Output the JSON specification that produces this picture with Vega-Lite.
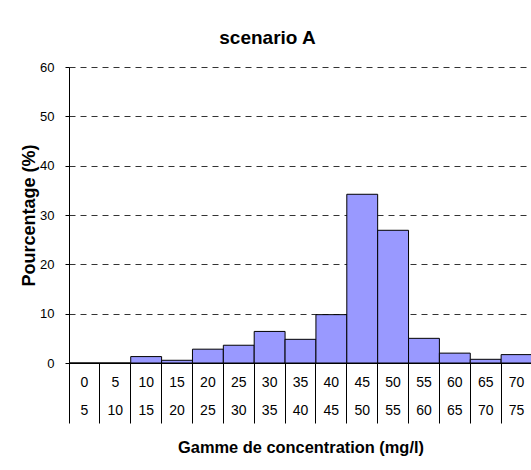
{
  "$schema": "https://vega.github.io/schema/vega-lite/v6.json",
  "autosize": "none",
  "padding": {"left": 69, "top": 67, "right": 0, "bottom": 107},
  "width": 463,
  "height": 296,
  "background": "white",
  "title": {
    "text": "scenario A",
    "font": "Liberation Sans",
    "fontSize": 19,
    "fontWeight": "bold",
    "color": "black",
    "anchor": "middle",
    "dx": -33,
    "offset": 13
  },
  "data": {
    "values": [
      {"bin": "0-5", "pct": 0},
      {"bin": "5-10", "pct": 0},
      {"bin": "10-15", "pct": 1.3},
      {"bin": "15-20", "pct": 0.55},
      {"bin": "20-25", "pct": 2.8},
      {"bin": "25-30", "pct": 3.6},
      {"bin": "30-35", "pct": 6.4},
      {"bin": "35-40", "pct": 4.8},
      {"bin": "40-45", "pct": 9.8},
      {"bin": "45-50", "pct": 34.2},
      {"bin": "50-55", "pct": 26.9},
      {"bin": "55-60", "pct": 5.0},
      {"bin": "60-65", "pct": 2.0},
      {"bin": "65-70", "pct": 0.75},
      {"bin": "70-75", "pct": 1.7}
    ]
  },
  "mark": {"type": "bar", "fill": "#9999FF", "stroke": "black", "strokeWidth": 1, "clip": false},
  "encoding": {
    "x": {
      "field": "bin",
      "type": "ordinal",
      "sort": null,
      "scale": {"paddingInner": 0, "paddingOuter": 0},
      "axis": {
        "title": "Gamme de concentration (mg/l)",
        "titleFont": "Liberation Sans",
        "titleFontSize": 16.4,
        "titleFontWeight": "bold",
        "titleColor": "black",
        "titlePadding": 16,
        "titleBaseline": "top",
        "bandPosition": 0,
        "tickSize": 60,
        "tickColor": "black",
        "tickWidth": 1,
        "domainColor": "black",
        "labelAngle": 0,
        "labelAlign": "center",
        "labelBaseline": "top",
        "labelOffset": 0,
        "labelPadding": -48,
        "labelLineHeight": 28,
        "labelFont": "Liberation Sans",
        "labelFontSize": 14,
        "labelColor": "black",
        "labelOverlap": false,
        "labelBound": false,
        "labelExpr": "split(datum.value, '-')"
      }
    },
    "y": {
      "field": "pct",
      "type": "quantitative",
      "scale": {"domain": [0, 60], "nice": false},
      "axis": {
        "title": "Pourcentage (%)",
        "titleFont": "Liberation Sans",
        "titleFontSize": 18,
        "titleFontWeight": "bold",
        "titleColor": "black",
        "titlePadding": 1,
        "values": [0, 10, 20, 30, 40, 50, 60],
        "tickSize": 4,
        "tickColor": "black",
        "domainColor": "black",
        "labelFont": "Liberation Sans",
        "labelFontSize": 13,
        "labelColor": "black",
        "labelPadding": 11,
        "grid": true,
        "gridColor": "black",
        "gridDash": [6, 5],
        "gridOpacity": 0.8
      }
    }
  },
  "config": {"view": {"stroke": null}}
}
